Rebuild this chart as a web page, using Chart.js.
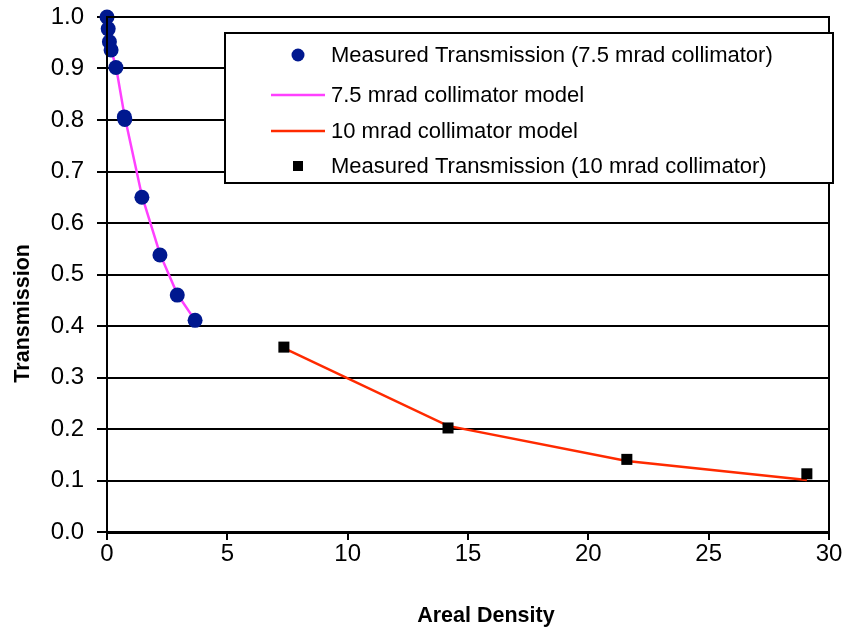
<!DOCTYPE html>
<html>
<head>
<meta charset="utf-8">
<script src="https://cdn.jsdelivr.net/npm/chart.js@4/dist/chart.umd.min.js"></script>
<style>
  html, body { margin: 0; padding: 0; background: #ffffff; }
  #wrap { width: 850px; height: 631px; position: relative; }
</style>
</head>
<body>
<div id="wrap"><canvas id="c" width="850" height="631"></canvas></div>
<script>
// ---- data ----
const measured75X = [0, 0.05, 0.1, 0.17, 0.37, 0.72, 0.74, 1.45, 2.2, 2.92, 3.66];
const measured75Y = [1.0, 0.977, 0.952, 0.936, 0.902, 0.806, 0.801, 0.650, 0.538, 0.460, 0.411];
const model75X = [0, 0.17, 0.37, 0.72, 1.45, 2.2, 2.92, 3.66];
const model75Y = [1.0, 0.935, 0.905, 0.810, 0.653, 0.540, 0.462, 0.411];
const model10X = [7.35, 14.17, 21.6, 29.08];
const model10Y = [0.357, 0.206, 0.138, 0.101];
const measured10X = [7.35, 14.17, 21.6, 29.08];
const measured10Y = [0.359, 0.202, 0.141, 0.113];
const seriesLabels = [
  'Measured Transmission (7.5 mrad collimator)',
  '7.5 mrad collimator model',
  '10 mrad collimator model',
  'Measured Transmission (10 mrad collimator)'
];
const xTitle = 'Areal Density';
const yTitle = 'Transmission';

const pts = (xs, ys) => xs.map((x, i) => ({ x: x, y: ys[i] }));

const legendPlugin = {
  id: 'boxLegend',
  afterDraw(chart) {
    const ctx = chart.ctx;
    const ca = chart.chartArea;
    ctx.save();
    // plot-area frame
    ctx.strokeStyle = '#000';
    ctx.lineWidth = 2;
    ctx.strokeRect(ca.left, ca.top, ca.right - ca.left, ca.bottom - ca.top);
    // legend box
    const bx = 225, by = 33, bw = 608, bh = 150;
    ctx.fillStyle = '#fff';
    ctx.fillRect(bx, by, bw, bh);
    ctx.strokeRect(bx, by, bw, bh);
    const rows = [55, 95, 131, 166];
    ctx.font = '22px "Liberation Sans", Arial, sans-serif';
    ctx.textBaseline = 'middle';
    ctx.textAlign = 'left';
    chart.data.datasets.forEach((ds, i) => {
      const y = rows[i];
      if (ds.showLine === false) {
        ctx.fillStyle = ds.backgroundColor;
        if (ds.pointStyle === 'rect') {
          ctx.fillRect(298 - 5, y - 5, 10, 10);
        } else {
          ctx.beginPath();
          ctx.arc(298, y, 6.5, 0, Math.PI * 2);
          ctx.fill();
        }
      } else {
        ctx.strokeStyle = ds.borderColor;
        ctx.lineWidth = 2.5;
        ctx.beginPath();
        ctx.moveTo(271, y);
        ctx.lineTo(325, y);
        ctx.stroke();
      }
      ctx.fillStyle = '#000';
      ctx.fillText(ds.label, 331, y + 1);
    });
    ctx.restore();
  }
};

new Chart(document.getElementById('c'), {
  type: 'scatter',
  data: {
    datasets: [
      {
        label: seriesLabels[0],
        data: pts(measured75X, measured75Y),
        showLine: false,
        pointStyle: 'circle',
        pointRadius: 7.5,
        backgroundColor: '#00188f',
        borderColor: '#00188f',
        borderWidth: 0,
        order: 0,
        clip: false
      },
      {
        label: seriesLabels[1],
        data: pts(model75X, model75Y),
        showLine: true,
        pointRadius: 0,
        borderColor: '#ff40ff',
        backgroundColor: '#ff40ff',
        borderWidth: 2.5,
        order: 2,
        clip: false
      },
      {
        label: seriesLabels[2],
        data: pts(model10X, model10Y),
        showLine: true,
        pointRadius: 0,
        borderColor: '#ff2a00',
        backgroundColor: '#ff2a00',
        borderWidth: 2.5,
        order: 2,
        clip: false
      },
      {
        label: seriesLabels[3],
        data: pts(measured10X, measured10Y),
        showLine: false,
        pointStyle: 'rect',
        pointRadius: 7.8,
        backgroundColor: '#000000',
        borderColor: '#000000',
        borderWidth: 0,
        order: 1,
        clip: false
      }
    ]
  },
  options: {
    responsive: false,
    animation: false,
    events: [],
    layout: { padding: { left: 0, right: 21, top: 17, bottom: 0 } },
    plugins: {
      legend: { display: false },
      tooltip: { enabled: false }
    },
    scales: {
      x: {
        type: 'linear',
        min: 0,
        max: 30,
        afterFit(scale) { scale.height = 99; scale.paddingRight = 0; },
        ticks: {
          stepSize: 5,
          color: '#000',
          padding: 0,
          font: { family: '"Liberation Sans", Arial, sans-serif', size: 24 }
        },
        grid: {
          drawOnChartArea: false,
          drawTicks: true,
          tickLength: 8,
          color: '#000',
          lineWidth: 2
        },
        border: { color: '#000', width: 3 },
        title: {
          display: true,
          text: '      ' + xTitle,
          color: '#000',
          padding: { top: 0, bottom: 2 },
          font: { family: '"Liberation Sans", Arial, sans-serif', size: 21.5, weight: 'bold' }
        }
      },
      y: {
        type: 'linear',
        min: 0,
        max: 1,
        afterFit(scale) { scale.width = 107; scale.paddingTop = 0; scale.paddingBottom = 0; },
        ticks: {
          stepSize: 0.1,
          color: '#000',
          padding: 13,
          callback: (v) => Number(v).toFixed(1),
          font: { family: '"Liberation Sans", Arial, sans-serif', size: 24 }
        },
        grid: {
          drawTicks: true,
          tickLength: 10,
          color: '#000',
          lineWidth: 2
        },
        border: { color: '#000', width: 2 },
        title: {
          display: true,
          text: yTitle + '             ',
          color: '#000',
          padding: { top: 10, bottom: 0 },
          font: { family: '"Liberation Sans", Arial, sans-serif', size: 21.5, weight: 'bold' }
        }
      }
    }
  },
  plugins: [legendPlugin]
});
</script>
</body>
</html>
